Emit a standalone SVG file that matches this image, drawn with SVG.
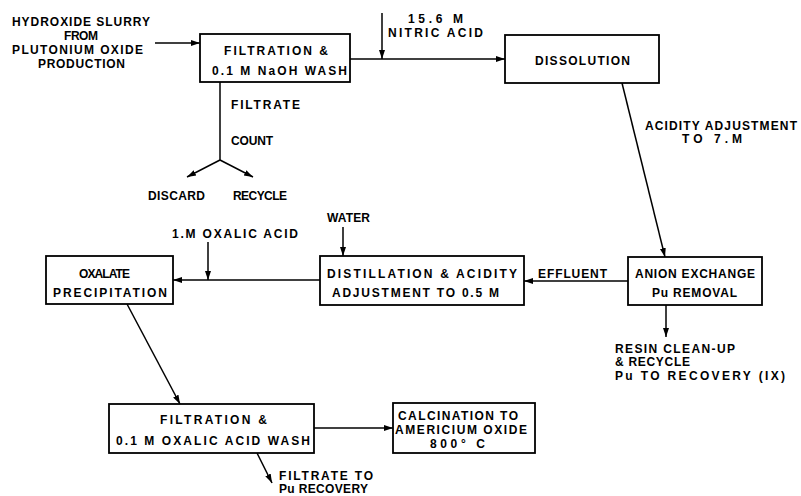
<svg xmlns="http://www.w3.org/2000/svg" width="801" height="496" viewBox="0 0 801 496">
<style>
text{font-family:"Liberation Sans",Arial,sans-serif;font-weight:bold;font-size:12px;fill:#000}
.box{fill:#fff;stroke:#000;stroke-width:1.8}
.ln{stroke:#000;stroke-width:1.5;fill:none}
.ar{stroke:#000;stroke-width:1.5;fill:none;marker-end:url(#ah)}
</style>
<defs>
<marker id="ah" markerUnits="userSpaceOnUse" markerWidth="10" markerHeight="8" refX="9" refY="4" orient="auto">
<path d="M0,1 L9,4 L0,7 Z" fill="#000"/>
</marker>
</defs>
<rect width="801" height="496" fill="#fff"/>
<g id="connectors">
<line class="ar" x1="155" y1="43" x2="200" y2="43"/>
<line class="ar" x1="350" y1="59" x2="505" y2="59"/>
<line class="ar" x1="382" y1="13" x2="382" y2="59"/>
<line class="ln" x1="220" y1="82" x2="220" y2="160"/>
<line class="ar" x1="220" y1="160" x2="187" y2="177"/>
<line class="ar" x1="220" y1="160" x2="253" y2="177"/>
<line class="ar" x1="622" y1="83" x2="665" y2="257"/>
<line class="ar" x1="628" y1="281" x2="524" y2="281"/>
<line class="ar" x1="666" y1="305" x2="666" y2="337"/>
<line class="ar" x1="343" y1="227" x2="343" y2="256"/>
<line class="ar" x1="320" y1="280" x2="173" y2="280"/>
<line class="ar" x1="208" y1="242" x2="208" y2="280"/>
<line class="ar" x1="127" y1="304" x2="180" y2="404"/>
<line class="ar" x1="314" y1="428" x2="393" y2="428"/>
<line class="ar" x1="257" y1="453" x2="272" y2="483"/>
</g>
<g id="labels">
<text x="12" y="26" textLength="138" lengthAdjust="spacing">HYDROXIDE SLURRY</text>
<text x="64" y="40" textLength="34" lengthAdjust="spacing">FROM</text>
<text x="12" y="54" textLength="131" lengthAdjust="spacing">PLUTONIUM OXIDE</text>
<text x="38" y="68" textLength="87" lengthAdjust="spacing">PRODUCTION</text>
<text x="231" y="109" textLength="69" lengthAdjust="spacing">FILTRATE</text>
<text x="231" y="145" textLength="42" lengthAdjust="spacing">COUNT</text>
<text x="148" y="200" textLength="57" lengthAdjust="spacing">DISCARD</text>
<text x="233" y="200" textLength="54" lengthAdjust="spacing">RECYCLE</text>
<text x="408" y="23" textLength="55" lengthAdjust="spacing">15.6 M</text>
<text x="388" y="37" textLength="95" lengthAdjust="spacing">NITRIC ACID</text>
<text x="645" y="130" textLength="152" lengthAdjust="spacing">ACIDITY ADJUSTMENT</text>
<text x="682" y="143" textLength="60" lengthAdjust="spacing">TO 7.M</text>
<text x="538" y="278" textLength="69" lengthAdjust="spacing">EFFLUENT</text>
<text x="327" y="222" textLength="43" lengthAdjust="spacing">WATER</text>
<text x="172" y="238" textLength="126" lengthAdjust="spacing">1.M OXALIC ACID</text>
<text x="615" y="353" textLength="120" lengthAdjust="spacing">RESIN CLEAN-UP</text>
<text x="615" y="366" textLength="75" lengthAdjust="spacing">&amp; RECYCLE</text>
<text x="615" y="380" textLength="170" lengthAdjust="spacing">Pu TO RECOVERY (IX)</text>
<text x="279" y="480" textLength="94" lengthAdjust="spacing">FILTRATE TO</text>
<text x="279" y="493" textLength="89" lengthAdjust="spacing">Pu RECOVERY</text>
</g>
<g id="filtration1">
<rect class="box" x="200" y="34" width="150" height="48"/>
<text x="224" y="55" textLength="104" lengthAdjust="spacing">FILTRATION &amp;</text>
<text x="212" y="75" textLength="135" lengthAdjust="spacing">0.1 M NaOH WASH</text>
</g>
<g id="dissolution">
<rect class="box" x="505" y="35" width="154" height="48"/>
<text x="535" y="65" textLength="95" lengthAdjust="spacing">DISSOLUTION</text>
</g>
<g id="anion">
<rect class="box" x="628" y="257" width="134" height="48"/>
<text x="635" y="278" textLength="120" lengthAdjust="spacing">ANION EXCHANGE</text>
<text x="652" y="297" textLength="85" lengthAdjust="spacing">Pu REMOVAL</text>
</g>
<g id="distillation">
<rect class="box" x="320" y="256" width="204" height="49"/>
<text x="327" y="278" textLength="190" lengthAdjust="spacing">DISTILLATION &amp; ACIDITY</text>
<text x="332" y="297" textLength="167" lengthAdjust="spacing">ADJUSTMENT TO 0.5 M</text>
</g>
<g id="oxalate">
<rect class="box" x="46" y="256" width="127" height="48"/>
<text x="79" y="278" textLength="51" lengthAdjust="spacing">OXALATE</text>
<text x="53" y="297" textLength="114" lengthAdjust="spacing">PRECIPITATION</text>
</g>
<g id="filtration2">
<rect class="box" x="109" y="404" width="205" height="49"/>
<text x="160" y="424" textLength="107" lengthAdjust="spacing">FILTRATION &amp;</text>
<text x="116" y="445" textLength="194" lengthAdjust="spacing">0.1 M OXALIC ACID WASH</text>
</g>
<g id="calcination">
<rect class="box" x="393" y="403" width="142" height="50"/>
<text x="398" y="420" textLength="120" lengthAdjust="spacing">CALCINATION TO</text>
<text x="395" y="434" textLength="132" lengthAdjust="spacing">AMERICIUM OXIDE</text>
<text x="430" y="448" textLength="55" lengthAdjust="spacing">800° C</text>
</g>
</svg>
